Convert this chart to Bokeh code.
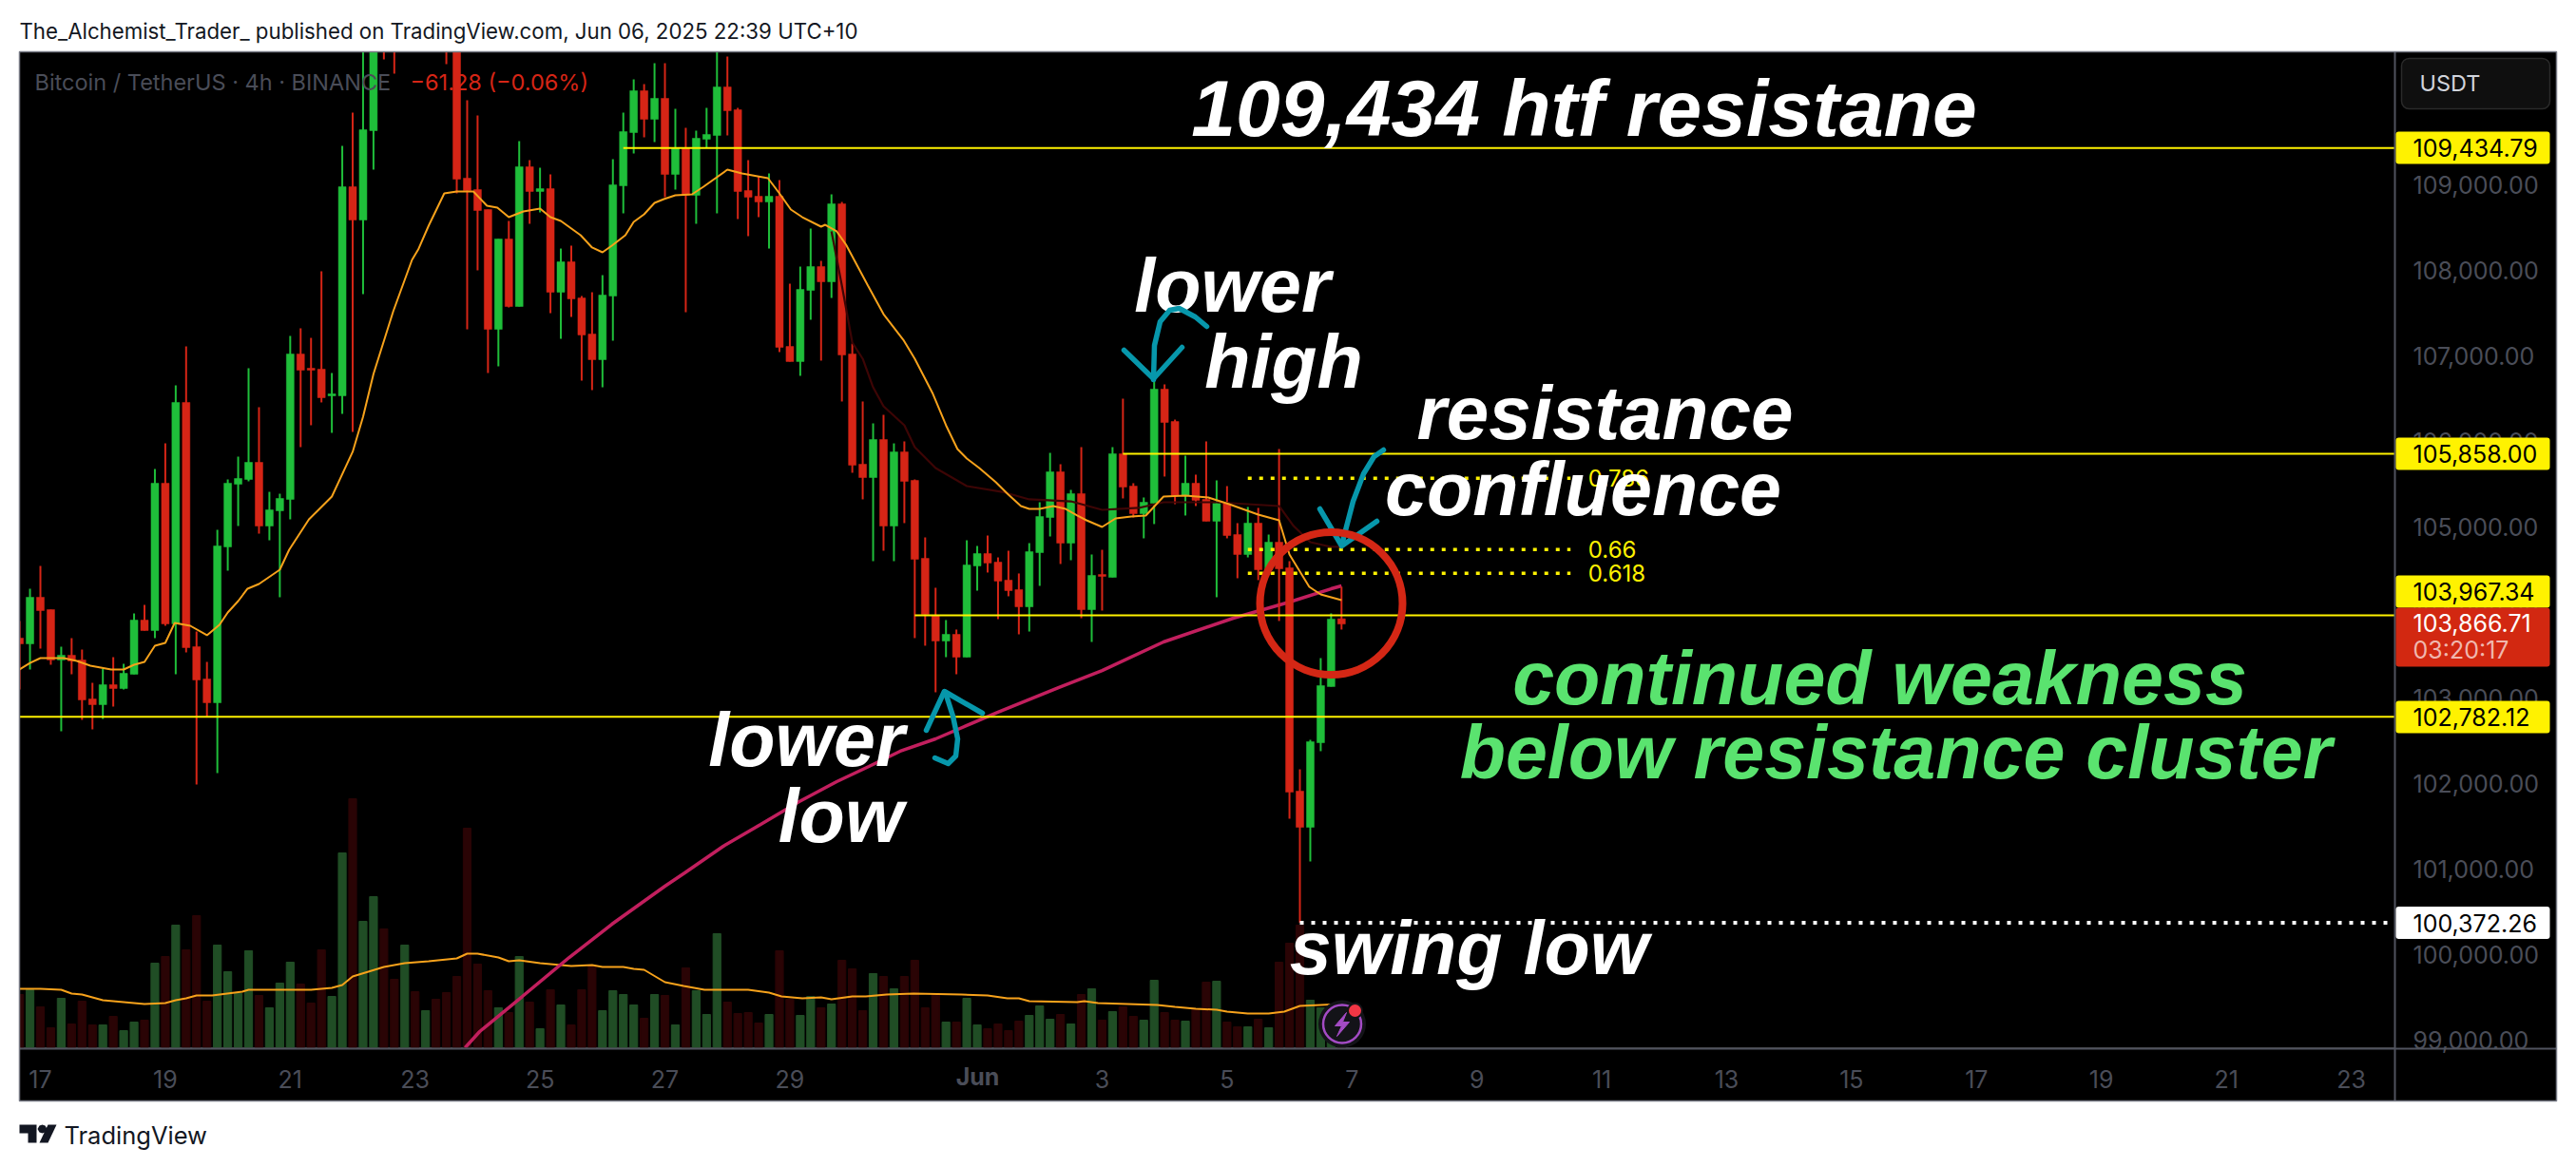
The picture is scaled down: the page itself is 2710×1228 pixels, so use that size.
from bokeh.embed import file_html
from bokeh.resources import INLINE
from bokeh.plotting import figure
from bokeh.layouts import column
from bokeh.core.properties import value
from bokeh.models import (Range1d, LinearAxis, FixedTicker, NumeralTickFormatter, Label,
                          BoxAnnotation, PolyAnnotation, ColumnDataSource)

# ---------- candles (4h, bar index 0 = 17 May 00:00) ----------
bar_index = list(range(-2, 126))
opens = [103702,103635,104180,104035,103446,103502,103446,102990,102923,103157,103112,103279,103913,103790,105514,103868,106459,103602,103224,102946,
         104769,105502,105558,105758,105013,105191,105325,107025,106859,106848,106536,106536,108982,108593,109638,111000,110950,110700,111300,110800,
         111600,111200,110650,109082,108949,108715,107314,108371,107581,109216,108927,108960,107748,108104,107681,107259,106959,107704,108993,109616,
         110105,109771,110016,109127,109438,108882,109538,109582,110149,109883,108938,108871,108804,108871,107114,106937,107770,108048,107870,108782,
         107025,105736,105580,106025,105013,105880,105547,104635,103968,103668,103746,103479,104546,104691,104591,104380,104269,104068,104702,105113,
         105647,104813,105391,104035,104446,104413,105858,105480,105158,105280,106614,106236,105369,105514,105325,105069,105280,104913,104680,105047,
         104502,104824,104524,101912,101489,102478,103135,103928]
highs = [103902,104280,104547,104035,103602,103702,103568,103179,103346,103479,103401,103991,104091,105680,105980,106658,107114,103779,103424,104969,
         105558,105825,106859,106403,105413,105391,107237,107326,107214,107993,106803,109460,109849,110900,111200,111400,111300,111500,111700,111980,
         111800,111500,111000,109994,109816,108715,108371,108582,109516,109293,109204,109127,108259,108293,107704,107748,107948,109304,109849,110238,
         110183,110427,110427,109894,109671,109638,109905,110605,110505,109905,109293,109104,109138,109060,107848,108048,108493,108115,108893,108804,
         107148,106470,106214,106314,105980,106003,105558,104880,104291,103913,103802,104846,104780,104902,104646,104724,104458,104813,105291,105869,
         105736,105436,105936,104680,104735,105936,106503,105514,105347,106714,106670,106258,105836,105614,106003,105547,105480,105047,105236,105225,
         104913,105914,104602,102167,102512,103468,103991,104302]
lows = [103101,103335,103579,103390,102612,103279,102745,102634,102757,102901,103101,103279,103790,103702,103846,103279,103535,101990,102779,102123,
        104491,105013,105536,104924,104846,104180,105091,105936,106192,106459,106103,106325,106114,107726,109182,110472,110305,110620,110650,110700,
        110800,110416,108904,107314,108004,106803,106881,107570,107581,108548,108682,107503,107203,107459,106714,106603,106636,107181,108671,109371,
        109560,109505,108860,108949,107514,108548,109438,108671,109582,108604,108404,108626,108259,107048,106937,106770,107426,106948,107681,106470,
        105636,105325,104602,104724,104602,105047,103702,103613,103068,103479,103279,103479,104257,104469,103924,104191,103746,103779,104313,104891,
        104569,104613,103935,103657,104024,104413,105336,105113,104869,105036,105592,105269,105136,105247,105069,104180,104869,104402,104646,104380,
        104502,103902,101589,100372.26,101089,102379,103135,103802]
closes = [103635,104180,104024,103446,103502,103435,102979,102923,103157,103112,103290,103913,103790,105514,103868,106459,103590,103212,102946,104780,
          105514,105569,105758,105013,105202,105336,107025,106836,106836,106514,106559,108982,108593,109649,110827,110700,110600,111300,110800,111600,
          111000,110650,109071,108938,108704,107314,108371,107581,109216,108927,108960,107748,108104,107670,107248,106959,107715,109004,109627,110105,
          109771,110016,109127,109438,108882,109549,109594,110149,109871,108927,108860,108804,108871,107103,106937,107781,108048,107870,108782,107014,
          105725,105580,106025,105013,105880,105536,104624,103979,103668,103746,103479,104557,104691,104580,104369,104257,104068,104713,105124,105647,
          104813,105391,104035,104435,104424,105858,105469,105158,105291,106614,106225,105369,105514,105314,105069,105280,104902,104680,105047,104502,
          104824,104513,101900,101489,102490,103146,103924,103866.71]

# ---------- volume, arbitrary units ----------
volumes = [56,61,43,21,52,25,49,24,24,33,18,27,29,89,96,129,103,139,49,108,
           80,57,102,55,42,68,90,67,47,103,54,205,262,133,159,125,72,108,59,39,
           51,58,75,231,88,60,42,37,96,48,20,61,45,24,61,87,39,60,56,45,
           31,56,55,24,84,60,35,120,48,36,37,26,35,102,51,34,54,42,46,92,
           83,39,78,75,62,75,92,42,56,27,27,52,24,20,25,18,28,34,44,30,
           35,25,56,62,29,38,43,33,29,71,37,29,28,41,69,70,27,22,22,30,
           21,90,110,129,50,42,15,5]
volume_ma_x = [-2,0,2,3,4,6,8,10,12,13,14,15,16.5,19.4,20,26,28,29,30,33,35,37.3,40,41,42,44,45,46,48,49,51,53,54,56,57,58,60,61.8,63.8,68,70,71.2,73.2,75,76,78,79.3,81.3,83.9,88.5,91,92.9,94,95,99.6,100.3,101.6,107.3,109,111,113,114,116,118,119.5,121,123,125]
volume_ma = [62,62,61,57,56,50,48,46,47,50,52,55,55,59,61,61,63,66,75,85,89,91,94,99,99,95,91,92,89,88,86,87,85,85,83,82,69,65,61,61,58,54,52,53,51,54,54,56,57,56,55,52,52,49,48,49,47,45,43,41,40,38,36,36,38,44,45,46]

# ---------- moving averages ----------
ma_fast_x = [-2,-1,0,2.25,3.5,4.8,6.8,8,9,10,11,12,12.9,14.4,16,17.2,18,19,19.9,21,23,23.9,25.8,28,30,31,32,33.9,35.7,36.3,37.3,38.8,40,41.6,42.9,43.9,45,46.4,48,49,50,51.9,53,54,54.9,56.2,57,58,59,59.9,61,62.6,63.7,66,67.4,69.9,71,72.1,73.2,75,75.4,76.5,77.4,79.5,81,82.9,84,85.7,87,88.1,89,90.2,91.8,93,94.2,95,96,97.3,98.5,99.6,100.5,102,103.3,104.8,106.2,107.9,110,112.2,114.2,117,119,120,121.9,123,125]
ma_fast = [103335,103412,103468,103468,103435,103379,103335,103335,103390,103424,103612,103646,103879,103846,103735,103857,104002,104135,104280,104335,104502,104735,105091,105358,105881,106292,106792,107526,108126,108248,108526,108904,108926,108926,108760,108737,108626,108693,108726,108626,108582,108415,108271,108215,108293,108415,108571,108660,108793,108838,108882,108893,108982,109182,109138,109082,108904,108715,108626,108515,108537,108460,108304,107826,107492,107192,106970,106570,106192,105914,105803,105692,105525,105380,105247,105213,105213,105247,105213,105136,105080,105002,105102,105125,105136,105358,105369,105347,105269,105147,105080,104680,104302,104213,104147]
ma_mid_x = [76,77,78,79,80,81,83,84,86,89,92.4,95,99,102,105.5,107.9,113,119,120.4,122,124,125]
ma_mid = [108460,107826,107159,106970,106636,106414,106192,105936,105692,105480,105413,105325,105302,105202,105225,105291,105291,105247,105013,104824,104769,104769]
ma_slow_x = [40.8,42.2,46.3,50.8,54.9,60,61.9,65.6,69.2,72.9,76.5,79.6,82.6,86,89,92,97.8,102,107.9,114.6,120,124,125]
ma_slow = [98910,99099,99510,99966,100355,100800,100956,101267,101523,101789,102023,102201,102379,102523,102679,102835,103123,103323,103657,103935,104124,104279,104313]

# ---------- levels ----------
level_prices = [109434.79, 105858.00, 103967.34, 102782.12]
level_starts = [56, 104, 84, -2.1]
swing_low = 100372.26
fib_prices = [105573, 104739, 104461]
fib_names = ["0.786", "0.66", "0.618"]
y_ticks = [99000,100000,101000,102000,103000,104000,105000,106000,107000,108000,109000]
x_ticks = [0,12,24,36,48,60,72,90,102,114,126,138,150,162,174,186,198,210,222]
x_labels = ["17","19","21","23","25","27","29"," ","3","5","7","9","11","13","15","17","19","21","23"]

GREEN, RED = "#1fbe3a", "#d62516"
VG, VR = "#204d25", "#2a0405"
YEL = "#fff200"
GREY = "#4a4d58"
TEAL = "#0797ab"
BIG = "Liberation Sans"

# chart pane with its real axes: it sits at picture x 20..2689, y 54..1158
p = figure(width=2669, height=1104, output_backend="svg", toolbar_location=None,
           x_range=Range1d(-2.009, 226.2), y_range=Range1d(98910, 110560.7),
           x_axis_location=None, y_axis_location=None, margin=(54, 0, 0, 20),
           min_border_left=0, min_border_right=170, min_border_top=0, min_border_bottom=56)
p.background_fill_color = "#000000"
p.border_fill_color = "#000000"
p.outline_line_color = None
p.grid.visible = False
p.frame_align = False
p.extra_x_ranges = {"px": Range1d(20, 2519)}
p.extra_y_ranges = {"px": Range1d(1102, 54), "vol": Range1d(0, 1048)}

# transparent sheet over the whole picture, for what lies outside the pane
q = figure(width=2694, height=1212, output_backend="svg", toolbar_location=None,
           x_range=Range1d(0, 2694), y_range=Range1d(1212, 0),
           x_axis_location=None, y_axis_location=None, margin=(-1158, 0, 0, 0),
           min_border_left=0, min_border_right=0, min_border_top=0, min_border_bottom=0)
q.background_fill_color = None
q.border_fill_color = None
q.outline_line_color = None
q.grid.visible = False
q.frame_align = False

def box(x0, y0, x1, y1, fill=None, line=None, lw=1, radius=0):
    q.add_layout(BoxAnnotation(left=x0, right=x1, top=y0, bottom=y1,
                      left_units="canvas", right_units="canvas", top_units="canvas", bottom_units="canvas",
                      fill_color=fill, fill_alpha=1 if fill else 0, line_color=line, line_alpha=1 if line else 0,
                      line_width=lw, border_radius=radius, editable=False))

def label(x, y, text, color, size, align="left", font="Inter", style="normal"):
    q.add_layout(Label(x=x, y=y, x_units="canvas", y_units="canvas", text=text, text_color=color,
                       text_font_size=f"{size}px", text_align=align, text_baseline="middle",
                       text_font=font, text_font_style=style))

# axes
ya = LinearAxis(ticker=FixedTicker(ticks=y_ticks), formatter=NumeralTickFormatter(format="0,0.00"))
ya.axis_line_color = None
ya.major_tick_line_color = None
ya.minor_tick_line_color = None
ya.major_tick_in = 0
ya.major_tick_out = 0
ya.major_label_standoff = 19
ya.major_label_text_color = GREY
ya.major_label_text_font = "Inter"
ya.major_label_text_font_size = "25px"
p.add_layout(ya, "right")

xa = LinearAxis(ticker=FixedTicker(ticks=x_ticks), major_label_overrides=dict(zip(x_ticks, x_labels)))
xa.axis_line_color = None
xa.major_tick_line_color = None
xa.minor_tick_line_color = None
xa.major_tick_in = 0
xa.major_tick_out = 0
xa.major_label_standoff = 18
xa.major_label_text_color = GREY
xa.major_label_text_font = "Inter"
xa.major_label_text_font_size = "25px"
p.add_layout(xa, "below")

# volume
vol_colors = [VG if c >= o else VR for o, c in zip(opens, closes)]
p.vbar(x=bar_index, top=volumes, bottom=0, width=0.75, color=vol_colors, y_range_name="vol")
p.line(volume_ma_x, volume_ma, color="#f7a21b", line_width=2, y_range_name="vol")

# moving averages under the candles
p.line(ma_slow_x, ma_slow, color="#c21f5e", line_width=3.5)

# candles
colors = [GREEN if c >= o else RED for o, c in zip(opens, closes)]
src = ColumnDataSource(dict(x=bar_index, o=opens, h=highs, l=lows, c=closes, col=colors))
p.segment("x", "h", "x", "l", source=src, color="col", line_width=2)
p.vbar("x", top="o", bottom="c", width=0.73, source=src, color="col", line_width=0.5)

p.line(ma_mid_x, ma_mid, color="#3d0505", line_width=2.2)
p.line(ma_fast_x, ma_fast, color="#f7a21b", line_width=2)

# horizontal levels
for price, start in zip(level_prices, level_starts):
    p.segment(start, price, 226.2, price, color=YEL, line_width=2)
p.segment(121, swing_low, 225.5, swing_low, color="#ffffff", line_width=4, line_dash="4 8")
for price, name in zip(fib_prices, fib_names):
    p.segment(116, price, 147, price, color=YEL, line_width=3.5, line_dash="4 8")
    p.text([148.7], [price], text=[name], text_color=YEL, text_font=value("Inter"),
           text_font_size="24px", text_baseline="middle", text_align="left")

# legend line
for t, x, col in [("Bitcoin / TetherUS · 4h · BINANCE", 36, GREY), ("−61.28 (−0.06%)", 431, RED)]:
    p.text([x], [86], text=[t], text_color=col, text_font=value("Inter"), text_font_size="23.5px",
           text_baseline="middle", text_align="left", x_range_name="px", y_range_name="px")

# big written notes
notes = [("109,434 htf resistane", 1666, 143, "#ffffff", 84), ("lower", 1296, 328, "#ffffff", 79), ("high", 1350, 408, "#ffffff", 79),
         ("resistance", 1688, 462, "#ffffff", 80), ("confluence", 1665, 542, "#ffffff", 79), ("lower", 848, 806, "#ffffff", 79),
         ("low", 884, 886, "#ffffff", 79), ("continued weakness", 1977, 741, "#5ae36f", 79),
         ("below resistance cluster", 1994, 819, "#5ae36f", 79), ("swing low", 1545, 1025, "#ffffff", 79)]
for t, x, y, col, size in notes:
    p.text([x], [y - 0.35 * size], text=[t], text_color=col, text_font=value(BIG), text_font_style="bold italic",
           text_font_size=f"{size}px", text_align="center", text_baseline="middle",
           x_range_name="px", y_range_name="px")

# hand drawn marks, in picture pixels
def stroke(xs, ys, color=TEAL, w=5.5):
    p.line(xs, ys, color=color, line_width=w, line_cap="round", line_join="round",
           x_range_name="px", y_range_name="px")

stroke([1269,1257,1240,1230,1220,1214,1213], [343,333,324,326,338,363,399])
stroke([1182,1213,1243], [368,398,365])
stroke([974,993,1033], [768,727,750])
stroke([994,1002,1007,1005,997,983], [728,753,777,795,803,797])
stroke([1455,1445,1434,1423,1411], [473,480,498,527,573])
stroke([1388,1411,1448], [535,574,548])
p.ellipse([1400], [634.5], width=150, height=150, fill_color=None, line_color="#d42715", line_width=8,
          x_range_name="px", y_range_name="px")

# lightning badge
p.ellipse([1411.5], [1077], width=50, height=50, fill_color="#131318", line_color=None, x_range_name="px", y_range_name="px")
p.ellipse([1411.5], [1077], width=40, height=40, fill_color="#131318", line_color="#a34bc4", line_width=2.5, x_range_name="px", y_range_name="px")
p.patch([1416,1404,1411,1406,1419,1412], [1065,1079,1079,1090,1075,1075], color="#a34bc4", x_range_name="px", y_range_name="px")
p.ellipse([1425], [1063], width=15, height=15, fill_color="#f23645", line_color="#131318", line_width=2, x_range_name="px", y_range_name="px")

# pane rules
box(2518, 54, 2520, 1158, fill="#50535e")
box(20, 1102, 2689, 1104, fill="#50535e")
box(20, 54, 2689, 1158, line="#787b86", lw=1.5)

# price tags
tags = [(155, "109,434.79", YEL, "#000000"), (477, "105,858.00", YEL, "#000000"), (622, "103,967.34", YEL, "#000000"),
        (754, "102,782.12", YEL, "#000000"), (970.5, "100,372.26", "#ffffff", "#000000")]
for yc, t, bg, fg in tags:
    box(2520, yc-17, 2682, yc+17, fill=bg, radius=3)
    label(2538, yc, t, fg, 25)
box(2520, 639, 2682, 701, fill="#d22811", radius=3)
label(2538, 655, "103,866.71", "#ffffff", 25)
label(2538, 683, "03:20:17", "#f0b7ae", 25)

box(2526, 61, 2682, 114, fill="#0f0f0f", line="#2a2a2a", lw=1.5, radius=8)
label(2545, 87, "USDT", "#d1d4dc", 23.5)

# date month label
label(1028, 1132, "Jun", GREY, 25, align="center", style="bold")

# outside the pane
label(20, 32, "The_Alchemist_Trader_ published on TradingView.com, Jun 06, 2025 22:39 UTC+10", "#131722", 22.25)
label(67, 1194, "TradingView", "#131722", 25.5)
for xs, ys in [([20,38,38,29,29,20], [1183,1183,1202,1202,1192,1192]), ([50,59,50,41], [1183,1183,1202,1202]),
               ([44,47,49,47,44,41,39,41], [1183,1184,1187.5,1191,1192,1191,1187.5,1184])]:
    q.add_layout(PolyAnnotation(xs=xs, ys=ys, xs_units="canvas", ys_units="canvas",
                                fill_color="#131722", fill_alpha=1, line_color=None))

layout = column(p, q, spacing=0)
open("out.html", "w").write(file_html(layout, INLINE))
